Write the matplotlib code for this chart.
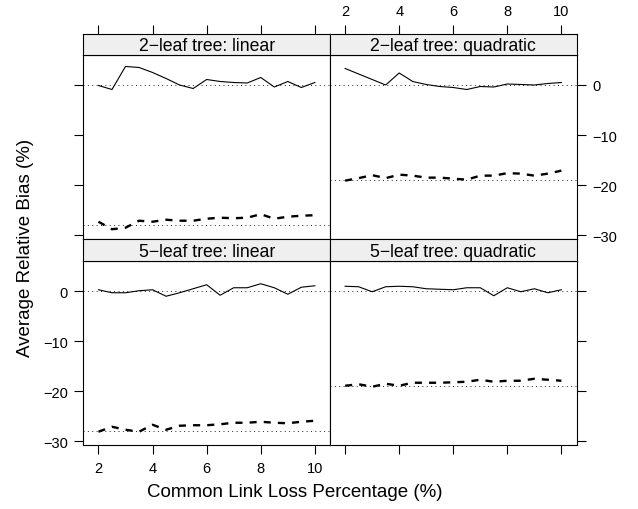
import matplotlib
matplotlib.use('Agg')
import matplotlib.pyplot as plt

plt.rcParams['font.family'] = ['Liberation Sans', 'DejaVu Sans']

# ---- data ----
x = [2, 2.5, 3, 3.5, 4, 4.5, 5, 5.5, 6, 6.5, 7, 7.5, 8, 8.5, 9, 9.5, 10]

titles = ["2\u2212leaf tree: linear", "2\u2212leaf tree: quadratic",
          "5\u2212leaf tree: linear", "5\u2212leaf tree: quadratic"]

solid_2lin = [-0.1, -0.9, 3.7, 3.5, 2.5, 1.3, 0.0, -0.7, 1.1, 0.7, 0.5, 0.4, 1.5, -0.4, 0.7, -0.5, 0.5]
dashed_2lin = [-27.3, -28.8, -28.5, -27.1, -27.3, -26.9, -27.1, -27.1, -26.7, -26.5, -26.6, -26.5, -25.8, -26.7, -26.3, -26.1, -26.0]

solid_2quad = [3.3, 2.2, 1.1, 0.0, 2.4, 0.7, 0.1, -0.3, -0.5, -0.9, -0.3, -0.4, 0.2, 0.1, 0.0, 0.3, 0.5]
dashed_2quad = [-19.1, -18.6, -18.0, -18.6, -17.9, -18.1, -18.5, -18.5, -18.7, -18.9, -18.1, -18.1, -17.6, -17.7, -18.1, -17.7, -17.1]

solid_5lin = [0.3, -0.3, -0.3, 0.1, 0.3, -1.0, -0.3, 0.5, 1.3, -0.8, 0.7, 0.7, 1.5, 0.7, -0.6, 0.8, 1.1]
dashed_5lin = [-28.1, -27.1, -27.7, -28.1, -26.7, -27.7, -26.9, -26.8, -26.8, -26.6, -26.3, -26.3, -26.1, -26.3, -26.4, -26.1, -25.9]

solid_5quad = [1.0, 0.9, -0.1, 0.9, 1.0, 0.9, 0.5, 0.4, 0.3, 0.7, 0.7, -0.9, 0.7, -0.1, 0.5, -0.3, 0.3]
dashed_5quad = [-18.9, -18.6, -19.1, -18.5, -18.9, -18.3, -18.3, -18.3, -18.2, -18.1, -17.7, -18.1, -17.9, -17.9, -17.5, -17.7, -17.9]

ref_zero = 0.0
ref_linear = -27.9
ref_quadratic = -18.9

x_ticks = [2, 4, 6, 8, 10]
y_ticks = [0, -10, -20, -30]
y_ticklabels = ["0", "\u221210", "\u221220", "\u221230"]

xlabel = "Common Link Loss Percentage (%)"
ylabel = "Average Relative Bias (%)"

# ---- layout ----
W, H = 638, 510
fig = plt.figure(figsize=(W / 100, H / 100), dpi=100)

XL, XM, XR = 83.3, 330.0, 576.5
rows = [  # (strip_top, strip_bottom=panel_top, panel_bottom)
    (34.7, 55.7, 240.0),
    (240.0, 262.0, 446.0),
]
cols = [(XL, XM), (XM, XR)]

xlim = (1.44, 10.56)
ylim = (-30.75, 6.05)

series = [
    (solid_2lin, dashed_2lin, ref_linear),
    (solid_2quad, dashed_2quad, ref_quadratic),
    (solid_5lin, dashed_5lin, ref_linear),
    (solid_5quad, dashed_5quad, ref_quadratic),
]

TICKLEN = 6.2
TICKFS = 10.5
PAD = 5.0
STRIPFS = 12.7
frame_lw = 0.8

for r, (st, sb, pb) in enumerate(rows):
    for c, (l, rr) in enumerate(cols):
        i = r * 2 + c
        ax = fig.add_axes([l / W, 1 - pb / H, (rr - l) / W, (pb - sb) / H])
        sax = fig.add_axes([l / W, 1 - sb / H, (rr - l) / W, (sb - st) / H])
        solid, dashed, ref = series[i]

        ax.axhline(ref_zero, color='#222222', lw=0.7, linestyle=(0, (1, 3.5)))
        ax.axhline(ref, color='#222222', lw=0.7, linestyle=(0, (1, 3.5)))
        ax.plot(x, solid, color='black', lw=0.8)
        ax.plot(x, dashed, color='black', lw=1.7, linestyle=(0, (3.0, 3.0)),
                dash_capstyle='butt')
        ax.set_xlim(xlim)
        ax.set_ylim(ylim)
        for sp in ax.spines.values():
            sp.set_linewidth(frame_lw)

        # strip
        sax.set_xlim(xlim)
        sax.set_facecolor('#efefef')
        sax.set_yticks([])
        for sp in sax.spines.values():
            sp.set_linewidth(frame_lw)
        sax.text(0.5, 0.45, titles[i], transform=sax.transAxes,
                 ha='center', va='center', fontsize=STRIPFS)

        # x ticks
        ax.set_xticks(x_ticks)
        sax.set_xticks(x_ticks)
        if r == 0:
            ax.tick_params(axis='x', bottom=False, labelbottom=False,
                           top=False, labeltop=False)
            sax.tick_params(axis='x', direction='out', bottom=False, labelbottom=False,
                            top=True, labeltop=(c == 1), length=TICKLEN,
                            width=0.8, labelsize=TICKFS, pad=PAD)
        else:
            sax.tick_params(axis='x', bottom=False, labelbottom=False,
                            top=False, labeltop=False)
            ax.tick_params(axis='x', direction='out', bottom=True,
                           labelbottom=(c == 0), top=False, length=TICKLEN,
                           width=0.8, labelsize=TICKFS, pad=PAD)

        # y ticks
        ax.set_yticks(y_ticks)
        ax.set_yticklabels(y_ticklabels)
        if c == 0:
            ax.tick_params(axis='y', direction='out', left=True, right=False,
                           labelleft=(r == 1), labelright=False,
                           length=TICKLEN, width=0.8, labelsize=TICKFS, pad=PAD)
        else:
            ax.tick_params(axis='y', direction='out', left=False, right=True,
                           labelleft=False, labelright=(r == 0),
                           length=TICKLEN, width=0.8, labelsize=TICKFS, pad=PAD)

fig.text(294.5 / W, 1 - 493 / H, xlabel, ha='center', va='center', fontsize=13.5)
fig.text(25 / W, 1 - 247.5 / H, ylabel, ha='center', va='center',
         rotation=90, fontsize=13.5)

fig.savefig('out.png', dpi=100)
